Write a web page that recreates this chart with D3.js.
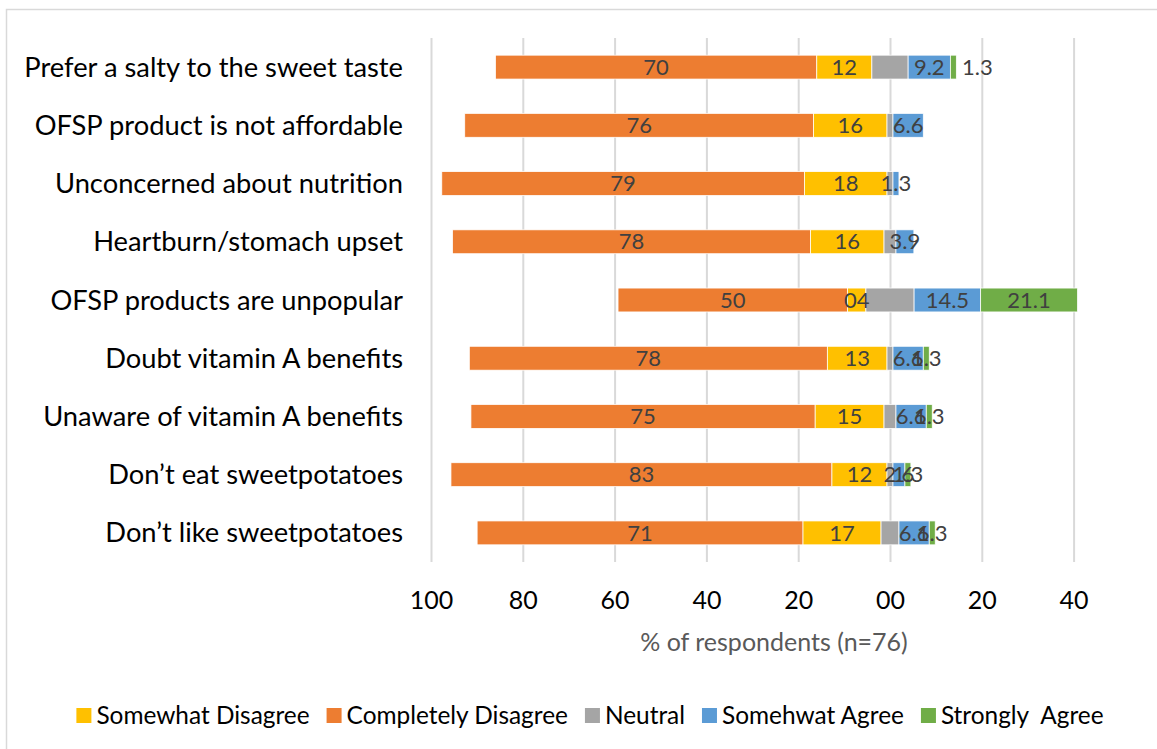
<!DOCTYPE html>
<html>
<head>
<meta charset="utf-8">
<script src="https://cdn.jsdelivr.net/npm/d3@7"></script>
<style>
  body { margin: 0; background: #fff; }
  text { font-family: Lato, "Open Sans", sans-serif; }
</style>
</head>
<body>
<svg id="chart" width="1157" height="749"></svg>
<script>
// Reasons for not consuming OFSP products, % of respondents (n=76)
const categories = [
  "Prefer a salty to the sweet taste",
  "OFSP product is not affordable",
  "Unconcerned about nutrition",
  "Heartburn/stomach upset",
  "OFSP products are unpopular",
  "Doubt vitamin A benefits",
  "Unaware of vitamin A benefits",
  "Don\u2019t eat sweetpotatoes",
  "Don\u2019t like sweetpotatoes"
];
const completelyDisagree = [70, 76, 79, 78, 50, 78, 75, 83, 71];
const somewhatDisagree   = [12, 16, 18, 16, 4, 13, 15, 12, 17];
const neutral            = [7.9, 1.3, 1.3, 2.6, 10.5, 1.3, 2.6, 1.3, 3.9];
const somewhatAgree      = [9.2, 6.6, 1.3, 3.9, 14.5, 6.6, 6.6, 2.6, 6.6];
const stronglyAgree      = [1.3, 0, 0, 0, 21.1, 1.3, 1.3, 1.3, 1.3];
const xTicks = [-100, -80, -60, -40, -20, 0, 20, 40];
const axisTitle = "% of respondents (n=76)";
const legendOrder = ["Somewhat Disagree", "Completely Disagree", "Neutral", "Somehwat Agree", "Strongly  Agree"];

// Series from left to right along the bar
const series = [
  { key: "Completely Disagree", values: completelyDisagree, color: "#ED7D31", fmt: d3.format("02d") },
  { key: "Somewhat Disagree",   values: somewhatDisagree,   color: "#FFC000", fmt: d3.format("02d") },
  { key: "Neutral",             values: neutral,            color: "#A5A5A5", fmt: null },
  { key: "Somehwat Agree",      values: somewhatAgree,      color: "#5B9BD5", fmt: d3.format(".1f") },
  { key: "Strongly  Agree",     values: stronglyAgree,      color: "#70AD47", fmt: d3.format(".1f") }
];
const colorOf = new Map(series.map(s => [s.key, s.color]));

const svg = d3.select("#chart");

// chart frame
svg.append("rect")
  .attr("x", 6.5).attr("y", 9.5)
  .attr("width", 1300).attr("height", 900)
  .attr("fill", "none").attr("stroke", "#d9d9d9").attr("stroke-width", 1.5);

const plot = { left: 431, right: 1073.6, top: 38, bottom: 562 };

const x = d3.scaleLinear().domain([-100, 40]).range([plot.left, plot.right]);
const y = d3.scaleBand().domain(categories).range([plot.top, plot.bottom])
  .paddingInner(0.59).paddingOuter(0.295);

// vertical gridlines
const grid = svg.append("g")
  .attr("transform", `translate(0,${plot.bottom})`)
  .call(d3.axisBottom(x).tickValues(xTicks).tickSize(-(plot.bottom - plot.top)).tickFormat(""));
grid.select(".domain").remove();
grid.selectAll(".tick line").attr("stroke", "#d9d9d9").attr("stroke-width", 2);

// tick labels
const axis = svg.append("g")
  .attr("transform", `translate(0,${plot.bottom})`)
  .call(d3.axisBottom(x).tickValues(xTicks).tickSize(0).tickPadding(0)
    .tickFormat(d => d3.format("02d")(Math.abs(d))));
axis.select(".domain").remove();
axis.selectAll(".tick text")
  .attr("y", 47).attr("dy", null)
  .attr("font-size", 25).attr("fill", "#000")
  .style("font-family", "Lato, sans-serif");

// axis title
svg.append("text")
  .attr("x", 774).attr("y", 651)
  .attr("text-anchor", "middle")
  .attr("font-size", 25).attr("fill", "#595959")
  .text(axisTitle);

// category labels
svg.append("g").selectAll("text")
  .data(categories).join("text")
  .attr("x", 403)
  .attr("y", d => y(d) + y.bandwidth() / 2)
  .attr("dy", "0.35em")
  .attr("text-anchor", "end")
  .attr("font-size", 27.3).attr("fill", "#000")
  .text(d => d);

// stacked segments, neutral split evenly around zero
const segments = [];
categories.forEach((cat, i) => {
  let start = -(completelyDisagree[i] + somewhatDisagree[i] + neutral[i] / 2);
  series.forEach(s => {
    const v = s.values[i];
    segments.push({ cat, key: s.key, value: v, x0: start, x1: start + v, color: s.color, fmt: s.fmt });
    start += v;
  });
});
const drawn = segments.filter(d => d.value > 0);

svg.append("g").selectAll("rect")
  .data(drawn).join("rect")
  .attr("x", d => x(d.x0))
  .attr("y", d => y(d.cat))
  .attr("width", d => x(d.x1) - x(d.x0))
  .attr("height", y.bandwidth())
  .attr("fill", d => d.color)
  .attr("stroke", "#fff").attr("stroke-width", 0.75);

// value labels; the small green segment on the first row sits its label just past the bar
const labelNudge = new Map([["Prefer a salty to the sweet taste|Strongly  Agree", 24]]);
svg.append("g").selectAll("text")
  .data(drawn.filter(d => d.fmt))
  .join("text")
  .attr("x", d => x((d.x0 + d.x1) / 2) + (labelNudge.get(d.cat + "|" + d.key) || 0))
  .attr("y", d => y(d.cat) + y.bandwidth() / 2)
  .attr("dy", "0.35em")
  .attr("text-anchor", "middle")
  .attr("font-size", 22).attr("fill", "#404040")
  .text(d => d.fmt(d.value));

// legend
const legend = svg.append("g").attr("transform", "translate(0,715.5)");
let lx = 0;
const items = legend.selectAll("g").data(legendOrder).join("g");
items.append("rect")
  .attr("x", 0).attr("y", -7.5).attr("width", 15).attr("height", 15)
  .attr("fill", d => colorOf.get(d));
items.append("text")
  .attr("x", 20).attr("y", 0).attr("dy", "0.35em")
  .attr("font-size", 24.4).attr("fill", "#000")
  .style("white-space", "pre")
  .text(d => d);
items.each(function () {
  const w = this.querySelector("text").getComputedTextLength();
  d3.select(this).attr("transform", `translate(${lx},0)`);
  lx += 20 + w + 17;
});
const legendWidth = lx - 17;
legend.attr("transform", `translate(${590 - legendWidth / 2},715.5)`);
</script>
</body>
</html>
